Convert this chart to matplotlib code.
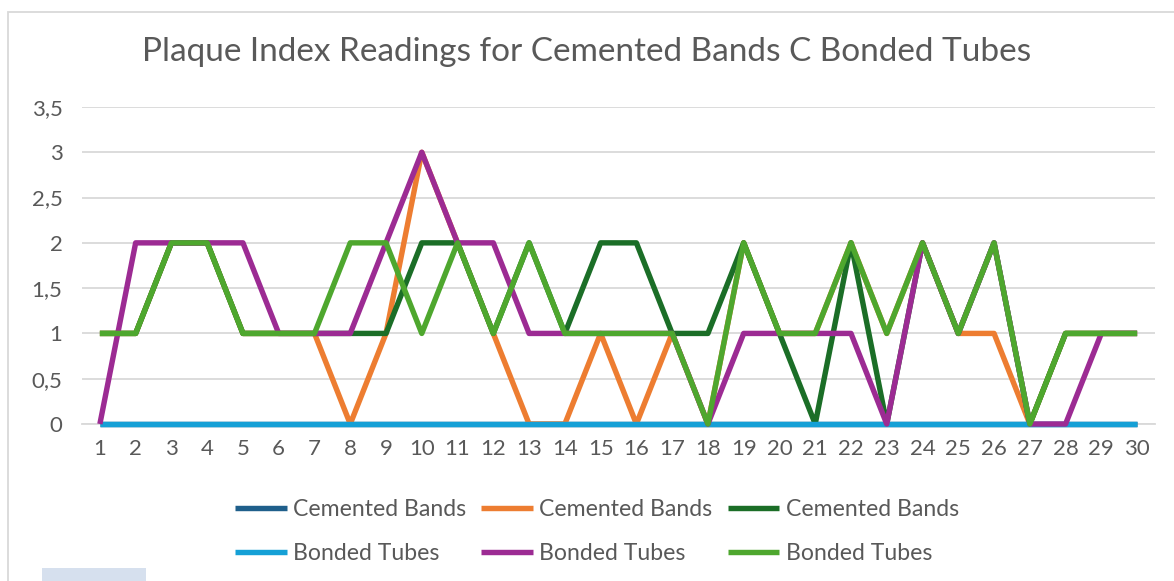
import numpy as np
import matplotlib
matplotlib.use("Agg")
import matplotlib.pyplot as plt
from matplotlib.patches import Rectangle
from matplotlib.ticker import FuncFormatter

plt.rcParams['font.family'] = ['Lato', 'DejaVu Sans']

patients = list(range(1, 31))

# Cemented Bands readings (three series)
cb_1 = [0] * 30
cb_2 = [1, 1, 2, 2, 1, 1, 1, 0, 1, 3, 2, 1, 0, 0, 1, 0, 1, 0, 2, 1, 1, 2, 1, 2, 1, 1, 0, 1, 1, 1]
cb_3 = [1, 1, 2, 2, 1, 1, 1, 1, 1, 2, 2, 1, 2, 1, 2, 2, 1, 1, 2, 1, 0, 2, 0, 2, 1, 2, 0, 1, 1, 1]

# Bonded Tubes readings (three series)
bt_1 = [0] * 30
bt_2 = [0, 2, 2, 2, 2, 1, 1, 1, 2, 3, 2, 2, 1, 1, 1, 1, 1, 0, 1, 1, 1, 1, 0, 2, 1, 2, 0, 0, 1, 1]
bt_3 = [1, 1, 2, 2, 1, 1, 1, 2, 2, 1, 2, 1, 2, 1, 1, 1, 1, 0, 2, 1, 1, 2, 1, 2, 1, 2, 0, 1, 1, 1]

series = [
    ("Cemented Bands", cb_1, "#1F5F8B"),
    ("Cemented Bands", cb_2, "#ED7D31"),
    ("Cemented Bands", cb_3, "#1B6E27"),
    ("Bonded Tubes", bt_1, "#15A0D6"),
    ("Bonded Tubes", bt_2, "#9C2B93"),
    ("Bonded Tubes", bt_3, "#4EA72E"),
]

text_col = "#595959"
grid_col = "#D9D9D9"

fig = plt.figure(figsize=(11.74, 5.81), dpi=100)
ax = fig.add_axes([82 / 1174, 1 - 424 / 581, (1155 - 82) / 1174, (424 - 107) / 581])

lines = []
for name, vals, col in series:
    ln, = ax.plot(patients, vals, color=col, lw=3.9, solid_joinstyle='round',
                  solid_capstyle='butt', clip_on=False, zorder=3, label=name)
    lines.append(ln)

ax.set_xlim(0.5, 30.5)
ax.set_ylim(0, 3.5)
ax.set_yticks(np.arange(0, 3.51, 0.5))
ax.yaxis.set_major_formatter(FuncFormatter(lambda v, p: ("%g" % v).replace(".", ",")))
ax.set_xticks(patients)
ax.grid(axis='y', color=grid_col, lw=1.3)
ax.set_axisbelow(True)
for s in ["top", "right", "left"]:
    ax.spines[s].set_visible(False)
ax.spines["bottom"].set_color(grid_col)
ax.spines["bottom"].set_linewidth(1.3)
ax.tick_params(axis='both', length=0, labelsize=16, labelcolor=text_col)
ax.tick_params(axis='y', pad=14)
ax.tick_params(axis='x', pad=11)

fig.text(0.5, 1 - 52 / 581, "Plaque Index Readings for Cemented Bands C Bonded Tubes",
         ha='center', va='center', fontsize=24, color=text_col)

# legend filled column by column -> reorder so rows read CB / BT
order = [0, 3, 1, 4, 2, 5]
leg = fig.legend([lines[i] for i in order], [series[i][0] for i in order],
                 ncol=3, loc='center', bbox_to_anchor=(597 / 1174, 1 - 531.5 / 581),
                 frameon=False, fontsize=16.6, handlelength=2.25, handletextpad=0.27,
                 columnspacing=0.65, labelspacing=1.0, labelcolor=text_col)

# chart frame and background artefact
fig.patches.append(Rectangle((8 / 1174, -0.1), 1.1, 1 - 12 / 581 + 0.1, transform=fig.transFigure,
                             fill=False, ec=grid_col, lw=1.3))
fig.patches.append(Rectangle((42 / 1174, 0), (146 - 42) / 1174, 13 / 581, transform=fig.transFigure,
                             fc="#D6E0EE", ec='none'))

fig.savefig("out.png", dpi=100)
